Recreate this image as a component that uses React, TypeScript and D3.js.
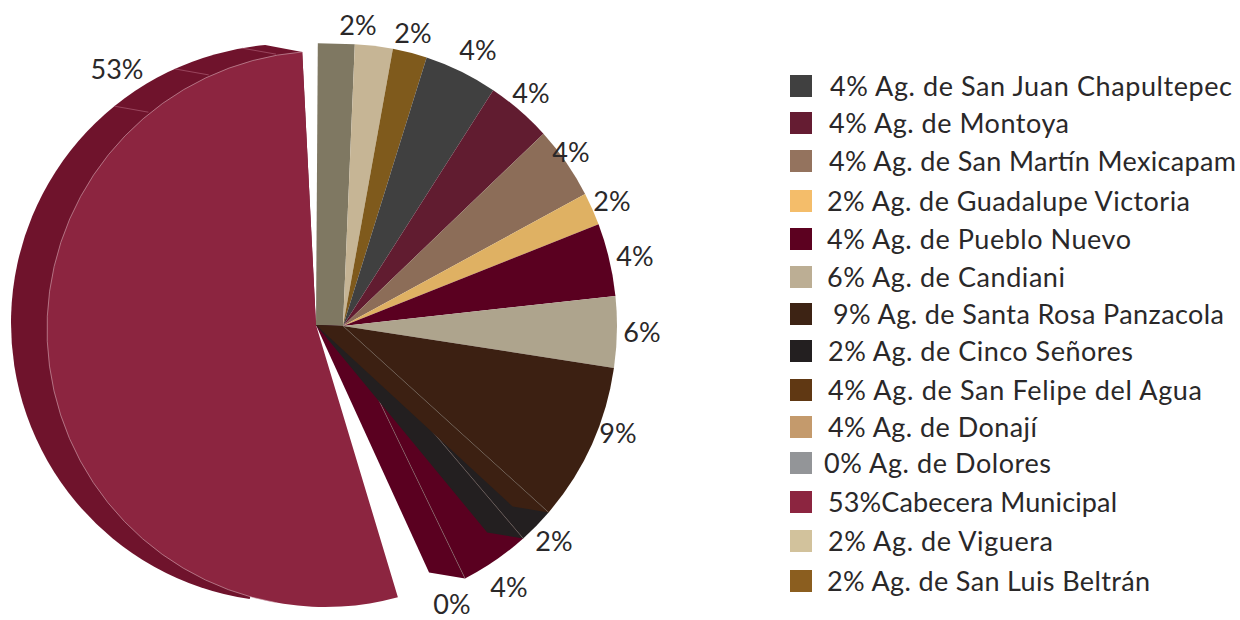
import React from "react";
import * as d3 from "d3";

// --- data ---
const sliceNames = ["Viguera", "San Luis Beltrán", "San Juan Chapultepec", "Montoya", "San Martín Mexicapam", "Guadalupe Victoria", "Pueblo Nuevo", "Candiani", "Santa Rosa Panzacola", "Cinco Señores", "Donají"];
const sliceSweepDeg = [7.8, 7.1, 15.2, 13.7, 15.2, 6.9, 15.4, 15.1, 33.4, 7.5, 14.5];
const sliceColors = ["#c6b595", "#7f5a1c", "#404040", "#611c30", "#8c6d58", "#dfb163", "#5a0020", "#aea48d", "#3c2012", "#231f20", "#5a0020"];
const sliceLabels = ["2%", "2%", "4%", "4%", "4%", "2%", "4%", "6%", "9%", "2%", "4%"];
const extraLabels = ["0%", "53%"];
const sideSeamDeg = [-39, -24.4, -9.9];
const legendLabels = [
  "4% Ag. de San Juan Chapultepec",
  "4% Ag. de Montoya",
  "4% Ag. de San Martín Mexicapam",
  "2% Ag. de Guadalupe Victoria",
  "4% Ag. de Pueblo Nuevo",
  "6% Ag. de Candiani",
  "9% Ag. de Santa Rosa Panzacola",
  "2% Ag. de Cinco Señores",
  "4% Ag. de San Felipe del Agua",
  "4% Ag. de Donají",
  "0% Ag. de Dolores",
  "53%Cabecera Municipal",
  "2% Ag. de Viguera",
  "2% Ag. de San Luis Beltrán",
];
const legendColors = ["#404040", "#651c32", "#94735e", "#f4bd6a", "#5c0120", "#bcae94", "#3d2314", "#231f20", "#603813", "#c49a6c", "#939598", "#8c2540", "#d2c29c", "#8b5e1f"];

// --- layout ---
const FONT = "Lato, 'Noto Sans', sans-serif";
const INK = "#2a2829";
const START_DEG = 2.4;
const C: [number, number] = [343, 326];
const RX = 274, RY = 282;
const APEX: [number, number] = [316, 325];
const OFFSET: [number, number] = [-36, -6];
const MAIN = { c: [325, 329] as [number, number], r: 278, from: 164.8, to: 355.3 };
const SIDE = { c: [290, 323] as [number, number], r: 279, from: -5.1, to: -171.7 };
const LEGEND_X = [830, 829, 829, 827, 827, 827, 833, 828, 828, 828, 824, 828, 828, 827];
const LEGEND_END = [1232, 1069, 1236, 1190, 1131, 1065, 1224, 1133, 1202, 1037, 1051, 1117, 1053, 1150];
const LEGEND_Y = [86, 123, 161, 201, 239, 277, 314, 351, 390, 427, 463, 502, 541, 581];
const SLICE_LABEL_POS: [number, number][] = [[358, 25], [413, 33], [478, 50], [531, 93], [571, 152], [612, 201], [635, 256], [642, 332], [618, 433], [554, 541], [509, 587]];
const EXTRA_LABEL_POS: [number, number][] = [[452, 604], [117, 69]];

const rad = d3.scaleLinear().domain([0, 360]).range([0, 2 * Math.PI]);

function rim(a: number): [number, number] {
  const s = Math.sin(a), k = Math.cos(a);
  const r = 1 / Math.hypot(s / RX, k / RY);
  return [C[0] + r * s, C[1] - r * k];
}
function wedge(a0: number, a1: number) {
  const p0 = rim(a0), p1 = rim(a1);
  return `M${C}L${p0}A${RX} ${RY} 0 0 1 ${p1}Z`;
}
function wall(a: number) {
  const f = rim(a);
  const b = [f[0] + OFFSET[0], f[1] + OFFSET[1]];
  return d3.line()([APEX, C, f, b as [number, number]]) + "Z";
}

const pieLayout = d3
  .pie<number>()
  .value((d) => d)
  .sort(null)
  .startAngle(rad(START_DEG))
  .endAngle(rad(START_DEG + d3.sum(sliceSweepDeg)));

export default function App() {
  const arcs = pieLayout(sliceSweepDeg);
  const last = arcs.length - 1;

  const mainP = d3.path();
  mainP.moveTo(APEX[0], APEX[1]);
  mainP.arc(MAIN.c[0], MAIN.c[1], MAIN.r, rad(MAIN.from) - Math.PI / 2, rad(MAIN.to) - Math.PI / 2);
  mainP.closePath();

  const mainRim = d3.path();
  mainRim.arc(MAIN.c[0], MAIN.c[1], MAIN.r, rad(MAIN.to) - Math.PI / 2, rad(190) - Math.PI / 2, true);

  const sideP = d3.path();
  sideP.moveTo(APEX[0], APEX[1]);
  sideP.lineTo(MAIN.c[0] + MAIN.r * Math.sin(rad(MAIN.to)), MAIN.c[1] - MAIN.r * Math.cos(rad(MAIN.to)));
  sideP.arc(SIDE.c[0], SIDE.c[1], SIDE.r, rad(SIDE.from) - Math.PI / 2, rad(SIDE.to) - Math.PI / 2, true);
  sideP.closePath();

  const oliveTop = rim(arcs[0].startAngle);
  const oliveWall = d3.line()([APEX, [oliveTop[0] - 37, oliveTop[1] - 1], oliveTop, C]) + "Z";

  return (
    <svg width={1240} height={620} style={{ position: "absolute", left: 0, top: 0, background: "#fff" }} fontFamily={FONT}>
      <path d={sideP.toString()} fill="#6f132c" />
      {sideSeamDeg.map((deg, i) => {
        const a = rad(deg);
        const x = SIDE.c[0] + SIDE.r * Math.sin(a);
        const y = SIDE.c[1] - SIDE.r * Math.cos(a);
        return <line key={i} x1={x} y1={y} x2={x + 34} y2={y + 6} stroke="#b5667d" strokeWidth={0.6} />;
      })}
      <path d={mainP.toString()} fill="#8c2540" />
      <path d={mainRim.toString()} fill="none" stroke="#d4a9b4" strokeWidth={0.6} />
      <path d={oliveWall} fill="#7f7862" />
      {arcs.slice(0, 8).map((d, i) => (
        <path key={i} d={wedge(d.startAngle, d.endAngle)} fill={sliceColors[i]} />
      ))}
      {/* lower wedges painted from back to front with their extruded walls */}
      {d3.range(last, 7, -1).map((i) => (
        <g key={i}>
          <path d={wall(arcs[i].endAngle)} fill={sliceColors[i]} />
          <path d={wedge(arcs[i].startAngle, arcs[i].endAngle)} fill={sliceColors[i]} />
          <path d={d3.line()([C, rim(arcs[i].endAngle)]) || ""} stroke="#8d8378" strokeWidth={0.5} fill="none" />
        </g>
      ))}

      {sliceLabels.map((t, i) => (
        <text key={i} x={SLICE_LABEL_POS[i][0]} y={SLICE_LABEL_POS[i][1]} dy="0.36em" textAnchor="middle" fontSize={27} fill={INK}>{t}</text>
      ))}
      {extraLabels.map((t, i) => (
        <text key={i} x={EXTRA_LABEL_POS[i][0]} y={EXTRA_LABEL_POS[i][1]} dy="0.36em" textAnchor="middle" fontSize={27} fill={INK}>{t}</text>
      ))}

      {legendLabels.map((t, i) => (
        <g key={i}>
          <rect x={790} y={LEGEND_Y[i] - 11} width={22} height={22} fill={legendColors[i]} />
          <text x={LEGEND_X[i]} y={LEGEND_Y[i]} dy="0.36em" fontSize={27} textLength={LEGEND_END[i] - LEGEND_X[i]} lengthAdjust="spacing" fill={INK}>{t}</text>
        </g>
      ))}
    </svg>
  );
}
